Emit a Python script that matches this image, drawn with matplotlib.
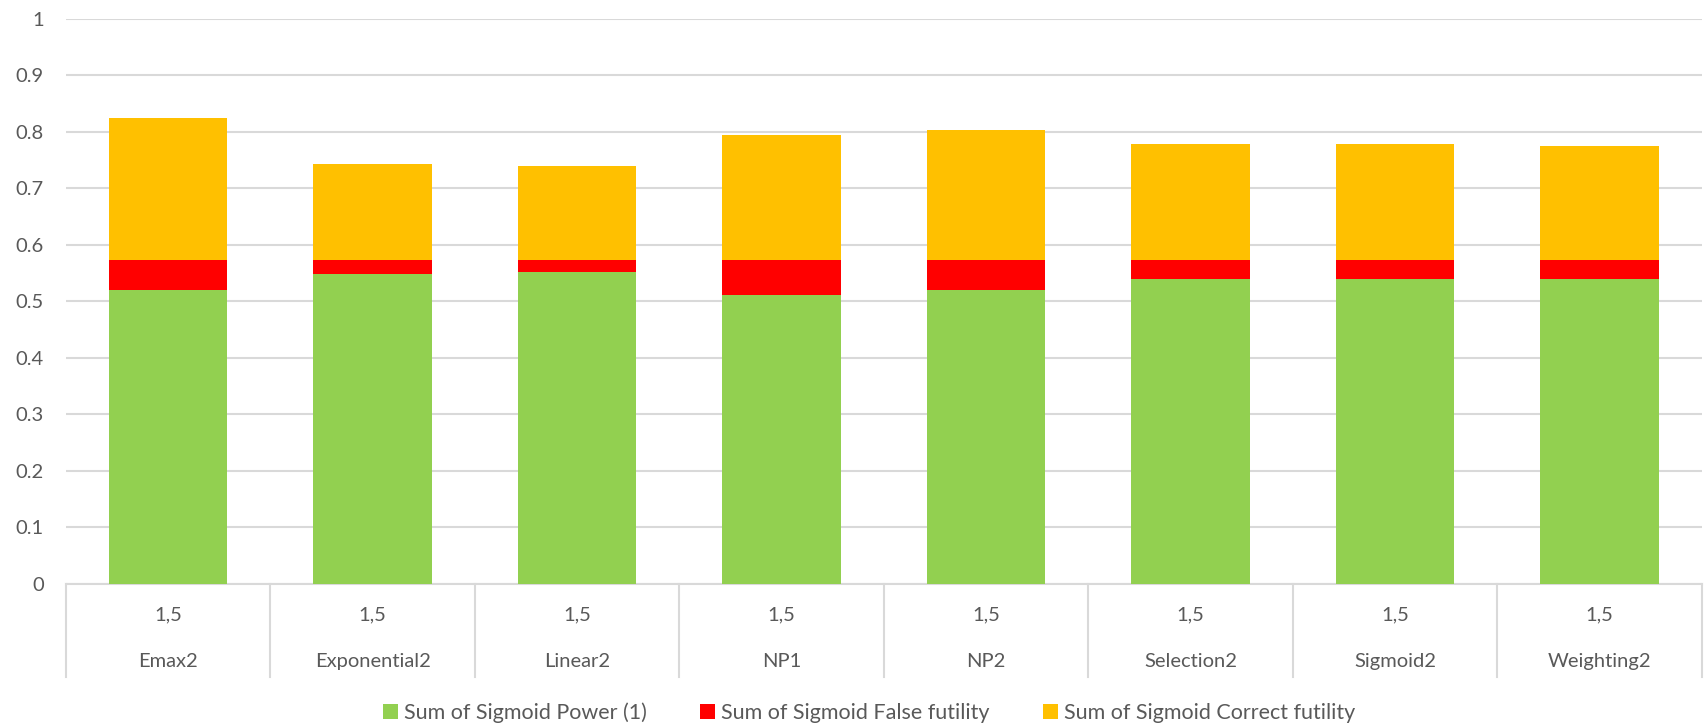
import matplotlib

matplotlib.use("Agg")
import matplotlib.pyplot as plt
import numpy as np

plt.rcParams["font.family"] = ["Lato", "DejaVu Sans"]

models = ["Emax2", "Exponential2", "Linear2", "NP1", "NP2", "Selection2", "Sigmoid2", "Weighting2"]
outer_labels = ["1,5"] * len(models)
power = [0.520, 0.548, 0.552, 0.511, 0.521, 0.540, 0.539, 0.540]
false_futility = [0.053, 0.025, 0.021, 0.062, 0.052, 0.033, 0.034, 0.033]
correct_futility = [0.252, 0.170, 0.166, 0.222, 0.230, 0.205, 0.205, 0.203]
series_names = ["Sum of Sigmoid Power (1)", "Sum of Sigmoid False futility", "Sum of Sigmoid Correct futility"]
colors = ["#92D050", "#FF0000", "#FFC000"]

TEXT = "#595959"
GRID = "#D9D9D9"

fig = plt.figure(figsize=(17.04, 7.25), dpi=100)
ax = fig.add_axes([0.0387, 0.1945, 0.96, 0.7793])

x = np.arange(len(models))
bottom = np.zeros(len(models))
handles = []
for vals, name, col in zip([power, false_futility, correct_futility], series_names, colors):
    b = ax.bar(x, vals, width=0.58, bottom=bottom, color=col, label=name, zorder=3)
    handles.append(b)
    bottom = bottom + np.array(vals)

ax.set_xlim(-0.5, len(models) - 0.5)
ax.set_ylim(0, 1)
ticks = np.round(np.arange(0, 1.01, 0.1), 1)
ax.set_yticks(ticks)
ax.set_yticklabels(["0" if t == 0 else ("1" if t == 1 else f"{t:.1f}") for t in ticks])
ax.tick_params(axis="y", length=0, pad=16, labelsize=14.5, labelcolor=TEXT)
ax.set_xticks([])
ax.grid(axis="y", color=GRID, linewidth=1.5, zorder=0)
for side in ["top", "right", "left"]:
    ax.spines[side].set_visible(False)
ax.spines["bottom"].set_color(GRID)
ax.spines["bottom"].set_linewidth(1.5)

# two-level category axis: "1,5" row over model names, with separators
trans = ax.get_xaxis_transform()
for i, (outer, name) in enumerate(zip(outer_labels, models)):
    ax.text(i, -0.055, outer, transform=trans, ha="center", va="center", fontsize=14.5, color=TEXT)
    ax.text(i, -0.138, name, transform=trans, ha="center", va="center", fontsize=14.5, color=TEXT)
for edge in np.arange(len(models) + 1) - 0.5:
    ax.plot([edge, edge], [0, -0.165], transform=trans, color=GRID, linewidth=1.5, clip_on=False)

fig.legend(handles=handles, loc="center", bbox_to_anchor=(0.51, 0.0166), ncol=3, frameon=False,
           fontsize=15.5, labelcolor=TEXT, handlelength=0.7, handleheight=0.7, handletextpad=0.25,
           columnspacing=2.5)

fig.savefig("out.png")
